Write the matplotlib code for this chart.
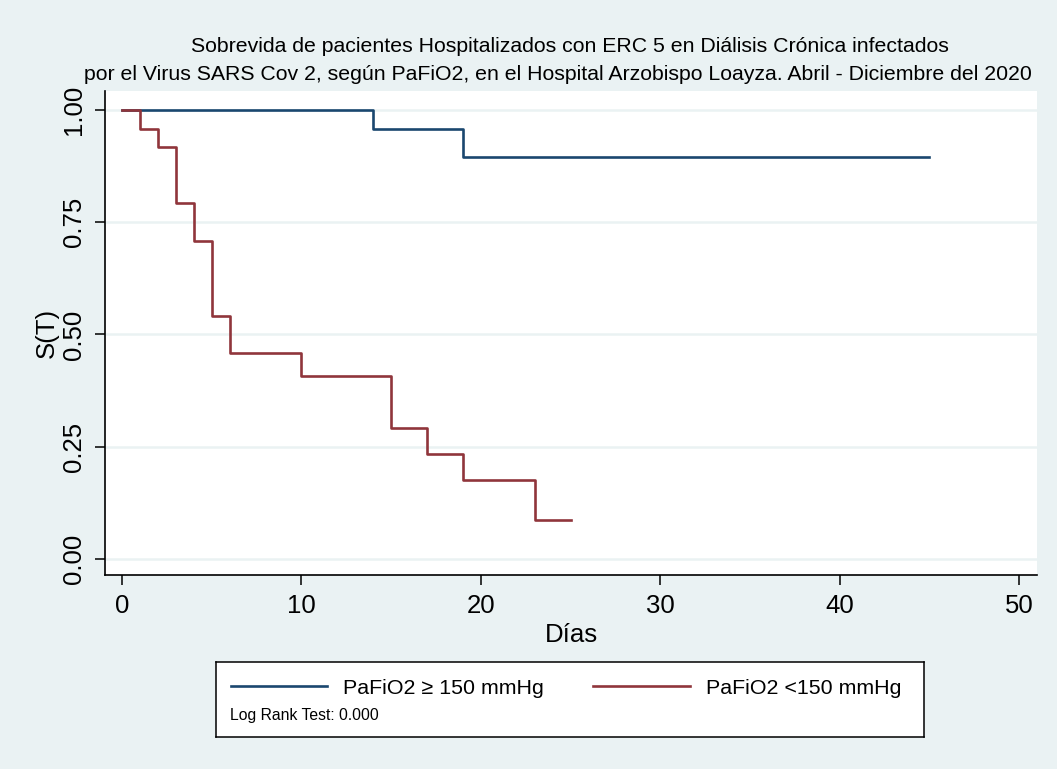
import matplotlib
matplotlib.use("Agg")
import matplotlib.pyplot as plt
from matplotlib.lines import Line2D

plt.rcParams['font.family'] = ['Liberation Sans', 'DejaVu Sans']

# Kaplan-Meier steps
dias_alto = [0, 14, 19, 45]
surv_alto = [1.0, 0.958, 0.896, 0.896]

dias_bajo = [0, 1, 2, 3, 4, 5, 6, 10, 15, 17, 19, 23, 25]
surv_bajo = [1.0, 0.958, 0.917, 0.792, 0.708, 0.542, 0.458, 0.407,
             0.291, 0.233, 0.175, 0.087, 0.087]

labels = ['PaFiO2 \u2265 150 mmHg', 'PaFiO2 <150 mmHg']
x_ticks = [0, 10, 20, 30, 40, 50]
y_ticks = [0.0, 0.25, 0.50, 0.75, 1.00]
title1 = 'Sobrevida de pacientes Hospitalizados con ERC 5 en Di\u00e1lisis Cr\u00f3nica infectados'
title2 = 'por el Virus SARS Cov 2, seg\u00fan PaFiO2, en el Hospital Arzobispo Loayza. Abril - Diciembre del 2020'
log_rank = 'Log Rank Test: 0.000'

BG = '#eaf2f3'
NAVY = '#1a476f'
MAROON = '#90353b'

W, H = 1057, 769
fig = plt.figure(figsize=(W / 100, H / 100), dpi=100, facecolor=BG)

ax = fig.add_axes([105 / W, 1 - 575 / H, (1037 - 105) / W, (575 - 91) / H])
ax.set_facecolor('white')
ax.step(dias_alto, surv_alto, where='post', color=NAVY, lw=1.9)
ax.step(dias_bajo, surv_bajo, where='post', color=MAROON, lw=1.9)

ax.set_xlim(-0.95, 51.0)
ax.set_ylim(-0.0356, 1.042)
ax.set_xticks(x_ticks)
ax.set_yticks(y_ticks)
ax.set_yticklabels([f'{v:.2f}' for v in y_ticks], rotation=90, va='center')
ax.tick_params(axis='both', labelsize=18.5, length=7, width=1.1, color='black', pad=7)
ax.grid(axis='y', color=BG, lw=1.8)
ax.set_axisbelow(True)
for s in ['top', 'right']:
    ax.spines[s].set_visible(False)
for s in ['left', 'bottom']:
    ax.spines[s].set_linewidth(1.2)

ax.set_xlabel('D\u00edas', fontsize=18.5, labelpad=3)
ax.set_ylabel('S(T)', fontsize=18.5, labelpad=2)
fig.text(570 / W, 1 - 46 / H, title1, ha='center', va='center', fontsize=15.3)
fig.text(558 / W, 1 - 75 / H, title2, ha='center', va='center', fontsize=15.3)

# legend box
lax = fig.add_axes([216 / W, 1 - 737 / H, (924 - 216) / W, (737 - 662) / H])
lax.set_facecolor('white')
lax.set_xticks([])
lax.set_yticks([])
for s in lax.spines.values():
    s.set_linewidth(1.1)
    s.set_color('black')
handles = [Line2D([], [], color=NAVY, lw=1.9), Line2D([], [], color=MAROON, lw=1.9)]
lax.legend(handles, labels, ncol=2, frameon=False, fontsize=15.4,
           loc='center left', bbox_to_anchor=(0.0, 0.65),
           handlelength=4.5, handletextpad=0.75, columnspacing=2.3,
           borderaxespad=0.3)
lax.text(14 / (924 - 216), 0.29, log_rank, transform=lax.transAxes,
         fontsize=11.3, va='center', ha='left')

fig.savefig('out.png', dpi=100, facecolor=BG)
